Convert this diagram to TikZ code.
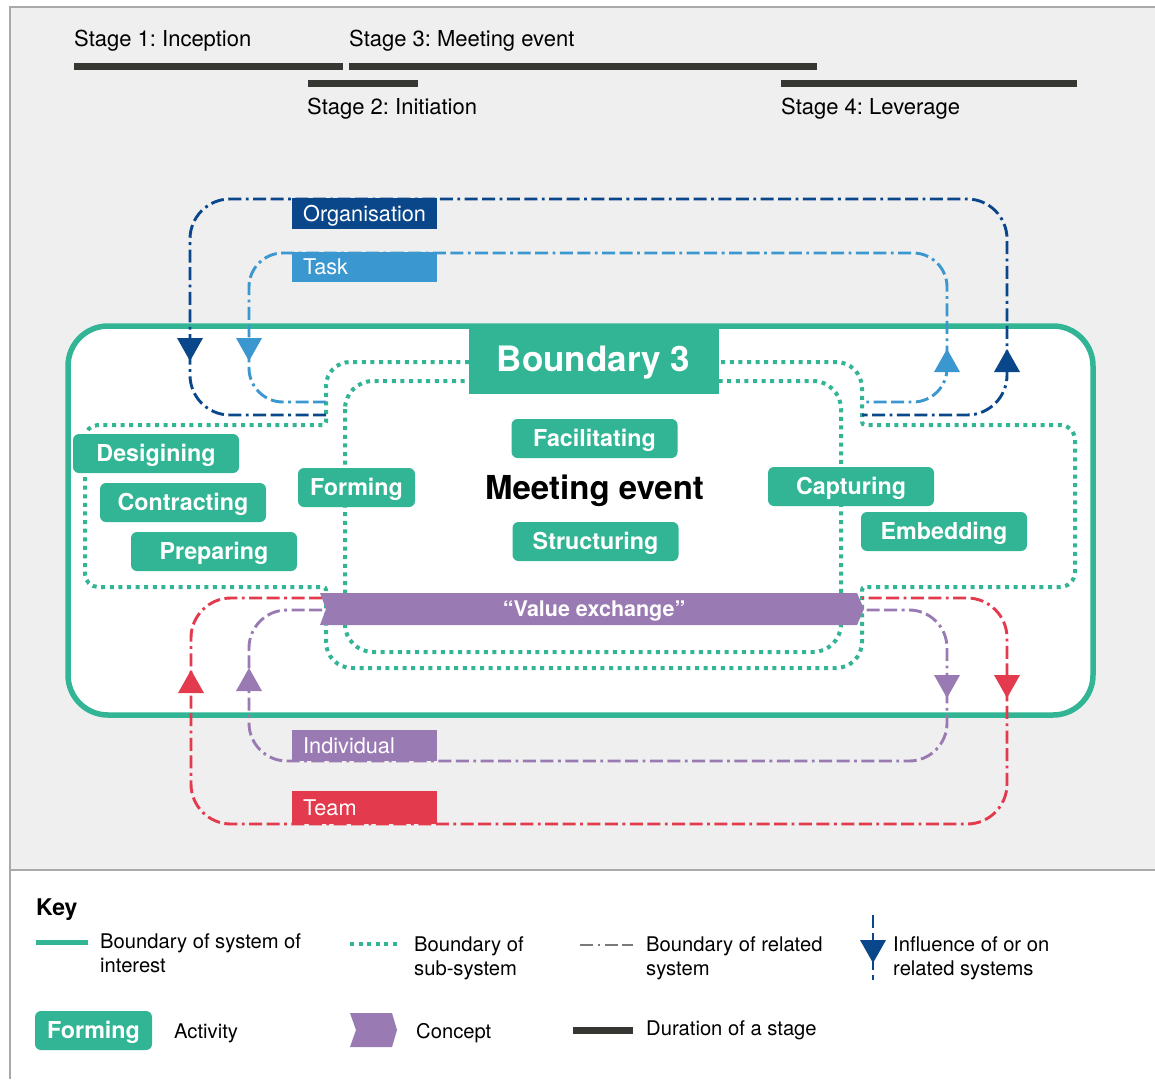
\documentclass[tikz,border=0pt]{standalone}
\usepackage{fontspec}
\setmainfont{TeX Gyre Heros}
\definecolor{sysgreen}{HTML}{31B594}
\definecolor{orgblue}{HTML}{0A478A}
\definecolor{taskblue}{HTML}{3A97CF}
\definecolor{indpurple}{HTML}{9A7AB3}
\definecolor{teamred}{HTML}{E33A4D}
\definecolor{bardark}{HTML}{363632}
\definecolor{bggray}{HTML}{EFEFEF}
\definecolor{framegray}{HTML}{A9A9A9}
\definecolor{keygray}{HTML}{7A7A7A}
\newcommand\fStage{\fontsize{22}{26}\selectfont}
\newcommand\fRel{\fontsize{21.7}{25}\selectfont}
\newcommand\fAct{\fontsize{23.3}{27}\selectfont\bfseries}
\newcommand\fBig{\fontsize{35}{40}\selectfont\bfseries}
\newcommand\fMeet{\fontsize{33}{38}\selectfont\bfseries}
\newcommand\fValue{\fontsize{21.5}{25}\selectfont\bfseries}
\newcommand\fKey{\fontsize{20.2}{24}\selectfont}
\newcommand\fKeyHead{\fontsize{23}{27}\selectfont\bfseries}
% filled arrow heads: colour, x, y of the base
\newcommand\tipdown[3]{\fill[#1] ({#2-13},#3) -- ({#2+13},#3) -- (#2,{#3+23}) -- cycle;}
\newcommand\tipup[3]{\fill[#1] ({#2-13},#3) -- ({#2+13},#3) -- (#2,{#3-23}) -- cycle;}
\frenchspacing
\begin{document}
\begin{tikzpicture}[x=1pt,y=-1pt,
  stagebar/.style={line width=7pt, draw=bardark},
  stagelabel/.style={anchor=base west, inner sep=0pt, font=\fStage, text=black},
  subsys/.style={draw=sysgreen, line width=4pt, dash pattern=on 4pt off 4.6pt},
  relsys/.style={line width=2.9pt, dash pattern=on 13pt off 4.5pt on 13pt off 4.5pt on 2.8pt off 4.5pt},
  relbox/.style={anchor=north west, minimum width=145pt, inner sep=0pt},
  rellabel/.style={anchor=base west, inner sep=0pt, text=white, font=\fRel},
  act/.style={fill=sysgreen, rounded corners=6pt, text=white, font=\fAct,
    minimum width=166pt, minimum height=39pt, inner sep=0pt,
    text height=16.5pt, text depth=0pt},
  keytext/.style={anchor=base west, inner sep=0pt, font=\fKey, align=left},
]
\useasboundingbox (0,0) rectangle (1155,1079);
\fill[white] (0,0) rectangle (1155,1079);
\fill[bggray] (10,7) rectangle (1155,870);
\draw[framegray, line width=1.5pt] (1155,7) -- (10,7) -- (10,1079);
\draw[framegray, line width=1.5pt] (10,870) -- (1155,870);

% stages
\draw[stagebar] (74,66) -- (343,66);
\draw[stagebar] (349,66) -- (817,66);
\draw[stagebar] (308,83) -- (418,83);
\draw[stagebar] (781,83) -- (1077,83);
\node[stagelabel] (st1) at (74,46.5) {Stage 1: Inception};
\node[stagelabel] (st3) at (349,46.5) {Stage 3: Meeting event};
\node[stagelabel] (st2) at (307,114.5) {Stage 2: Initiation};
\node[stagelabel] (st4) at (781,114.5) {Stage 4: Leverage};

% system of interest
\node[draw=sysgreen, fill=white, line width=5.5pt, rounded corners=40pt,
  minimum width=1025pt, minimum height=389pt, inner sep=0pt] (soi) at (580.5,520.5) {};

% sub-system boundaries
\draw[subsys] (469,362) [rounded corners=24pt] -- (326,362) [rounded corners=3pt] -- (326,425)
  [rounded corners=13pt] -- (85,425) -- (85,587) [rounded corners=3pt] -- (326,587)
  [rounded corners=26pt] -- (326,668) -- (862,668) [rounded corners=3pt] -- (862,587)
  [rounded corners=15pt] -- (1075,587) -- (1075,425) [rounded corners=3pt] -- (862,425)
  [rounded corners=26pt] -- (862,362) -- (718,362);
\draw[subsys, rounded corners=28pt] (345,381) rectangle (841,652);

% related systems
\draw[relsys, orgblue, rounded corners=40pt] (326,415) -| (190,199) -| (1007,415) -- (862,415);
\draw[relsys, taskblue, rounded corners=34pt] (326,402) -| (249,253) -| (947,402) -- (863,402);
\draw[relsys, teamred, rounded corners=40pt] (322,598) -| (191,824) -| (1007,598) -- (862,598);
\draw[relsys, indpurple, rounded corners=38pt] (322,610) -| (249,761) -| (947,610) -- (864,610);

\tipdown{orgblue}{190}{338}
\tipdown{taskblue}{249}{338}
\tipup{taskblue}{947}{372}
\tipup{orgblue}{1007}{372}
\tipup{teamred}{191}{693}
\tipup{indpurple}{249}{691}
\tipdown{indpurple}{947}{675}
\tipdown{teamred}{1007}{675}

\node[relbox, fill=orgblue, minimum height=31pt] (org) at (292,198) {};
\node[rellabel] (orgl) at (303,221) {Organisation};
\node[relbox, fill=taskblue, minimum height=30pt] (task) at (292,252) {};
\node[rellabel] (taskl) at (303,274.5) {Task};
\node[relbox, fill=indpurple, minimum height=31pt] (ind) at (292,730) {};
\node[rellabel] (indl) at (303,753) {Individual};
\node[relbox, fill=teamred, minimum height=33pt] (team) at (292,791) {};
\node[rellabel] (teaml) at (303,815.5) {Team};

% boundary title and meeting event
\node[fill=sysgreen, minimum width=250pt, minimum height=70pt, inner sep=0pt, text=white,
  font=\fBig, text height=25pt, text depth=0pt] (b3) at (593.5,359) {Boundary 3};
\node[font=\fMeet, inner sep=0pt, text height=23.5pt, text depth=0pt] (me) at (594.5,488) {Meeting event};

% activities
\node[act] (des) at (156,453.5) {Desigining};
\node[act] (con) at (183,502.5) {Contracting};
\node[act] (pre) at (214,551.5) {Preparing};
\node[act, minimum width=117pt] (frm) at (356.5,487.5) {Forming};
\node[act] (fac) at (594.5,438.5) {Facilitating};
\node[act] (str) at (595.5,541.5) {Structuring};
\node[act] (cap) at (851,486.5) {Capturing};
\node[act] (emb) at (944,531.5) {Embedding};

% concept banner
\fill[indpurple] (320,593) -- (857,593) -- (864,609) -- (857,625) -- (320,625) -- (326,609) -- cycle;
\node[font=\fValue, text=white, inner sep=0pt, text height=15.5pt, text depth=0pt] (ve) at (594,609) {“Value exchange”};

% key
\node[anchor=base west, inner sep=0pt, font=\fKeyHead] (keyh) at (36,915) {Key};
\draw[sysgreen, line width=5pt] (36,942) -- (88,942);
\node[keytext] (k1) at (100,972) {Boundary of system of\\interest};
\draw[subsys, line width=3.5pt] (350,944) -- (401,944);
\node[keytext] (k2) at (414,975) {Boundary of\\sub-system};
\draw[relsys, keygray, dash phase=17.5pt] (580,945) -- (633,945);
\node[keytext] (k3) at (646,975) {Boundary of related\\system};
\draw[relsys, orgblue] (873,915) -- (873,980);
\tipdown{orgblue}{873}{940}
\node[keytext] (k4) at (893,975) {Influence of or on\\related systems};
\node[act, minimum width=117pt] (kact) at (93.5,1030.5) {Forming};
\node[keytext] (k5) at (174,1038) {Activity};
\fill[indpurple] (350,1013) -- (392,1013) -- (397,1030) -- (392,1047) -- (350,1047) -- (356,1030) -- cycle;
\node[keytext] (k6) at (416,1038) {Concept};
\draw[stagebar] (573,1030) -- (633,1030);
\node[keytext] (k7) at (646,1035) {Duration of a stage};
\end{tikzpicture}
\end{document}
